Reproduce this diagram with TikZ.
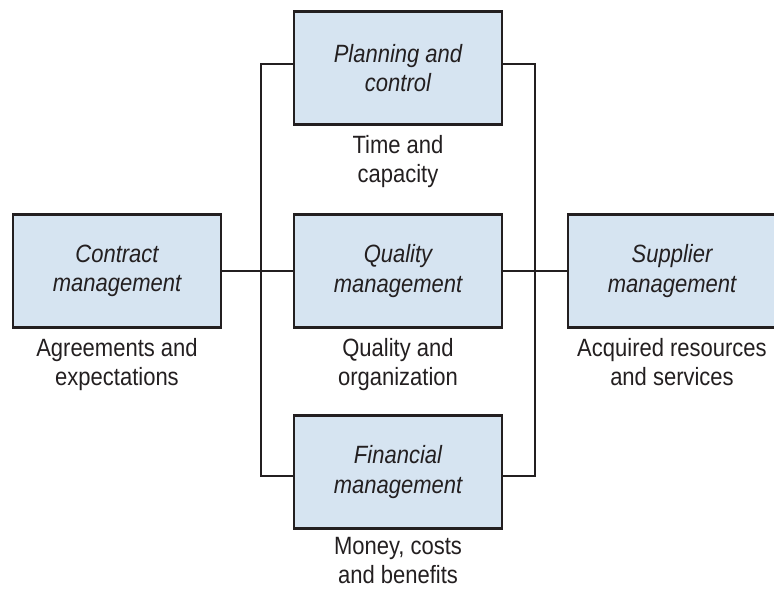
\documentclass[tikz,border=0pt]{standalone}
\usepackage{fontspec}
\setmainfont{Liberation Sans}[FakeStretch=0.88]
\usepackage{tikz}
\usetikzlibrary{positioning}
\definecolor{bleuboite}{RGB}{214,228,241}
\definecolor{trait}{RGB}{35,31,32}

\begin{document}
\begin{tikzpicture}[x=1pt,y=-1pt]
	% STYLES
	\tikzstyle{boite} = [draw=trait, line width=2.8pt, fill=bleuboite, minimum width=208pt, minimum height=113pt, inner sep=0pt, align=center, text=trait, font=\fontsize{25}{29.5}\selectfont\itshape]
	\tikzstyle{legende} = [inner sep=0pt, align=center, text=trait, font=\fontsize{25}{29.5}\selectfont]
	\tikzstyle{liaison} = [line width=2pt, draw=trait]

	\useasboundingbox (0,0) rectangle (774,589);

	% NOEUDS
	\node[boite] at (398, 68) (planif) {Planning and\\control};
	\node[boite] at (398, 271) (qualite) {Quality\\management};
	\node[boite] at (398, 472) (finance) {Financial\\management};
	\node[boite] at (117, 271) (contrat) {Contract\\management};
	\node[boite] at (672, 271) (fournis) {Supplier\\management};

	\node[legende, below=9pt of planif] (planifleg) {Time and\\capacity};
	\node[legende, below=9pt of qualite] (qualiteleg) {Quality and\\organization};
	\node[legende, below=7pt of finance] (financeleg) {Money, costs\\and benefits};
	\node[legende, below=9pt of contrat] (contratleg) {Agreements and\\expectations};
	\node[legende, below=9pt of fournis] (fournisleg) {Acquired resources\\and services};

	\coordinate (busg) at (261, 271);
	\coordinate (busd) at (535, 271);

	% LIAISONS
	\path[liaison] ([yshift=4pt]planif.west) -| (busg) |- ([yshift=-4pt]finance.west);
	\path[liaison] (contrat.east) -- (qualite.west);
	\path[liaison] ([yshift=4pt]planif.east) -| (busd) |- ([yshift=-4pt]finance.east);
	\path[liaison] (qualite.east) -- (fournis.west);
\end{tikzpicture}
\end{document}
